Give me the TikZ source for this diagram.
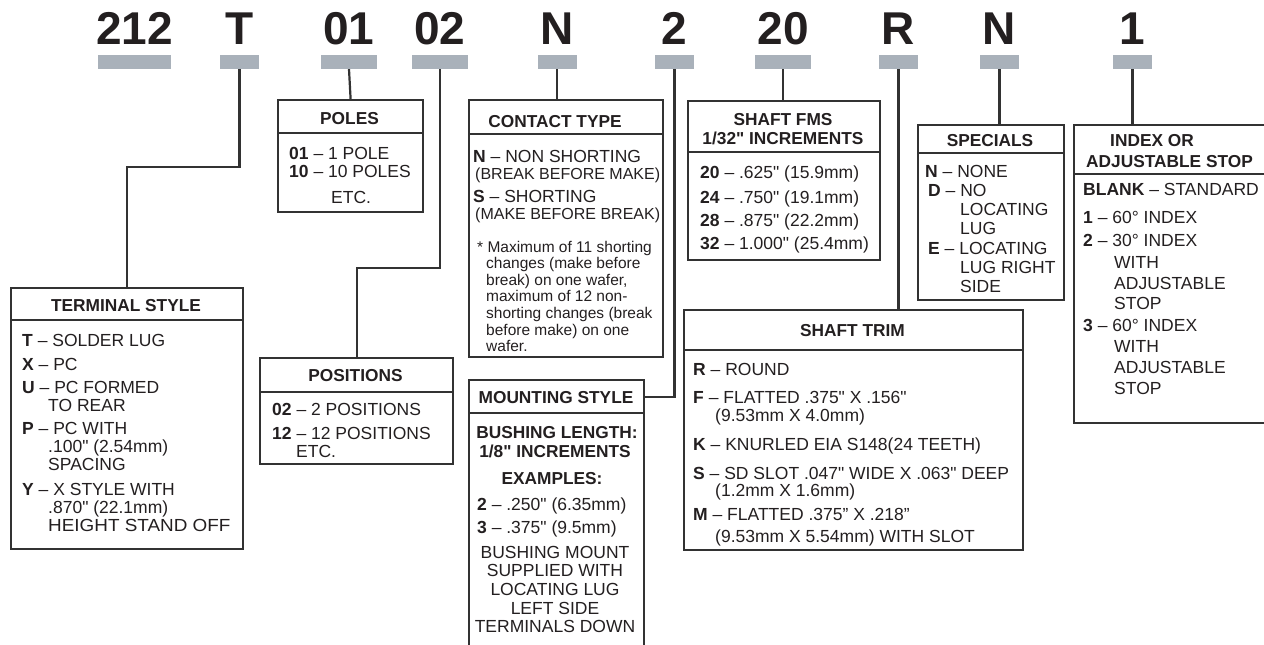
\documentclass[tikz,border=0pt]{standalone}
\usepackage{graphicx}
\usepackage{fontspec}
\setmainfont{Liberation Sans}
\newcommand\sq{\XeTeXglyph\XeTeXcharglyph"22\relax}
\definecolor{ink}{RGB}{35,31,32}
\definecolor{edge}{RGB}{50,50,50}
\definecolor{barc}{RGB}{169,177,186}
\begin{document}
\begin{tikzpicture}[x=1pt,y=-1pt,
  boxframe/.style={draw=edge,line width=2.2pt,inner sep=0,anchor=north west},
  hline/.style={draw=edge,line width=2pt},
  wire/.style={draw=edge,line width=2.2pt},
  bar/.style={fill=barc,inner sep=0,minimum height=14pt},
  code/.style={font=\fontsize{46}{46}\selectfont\bfseries,text=ink,anchor=base,inner sep=0},
  tx/.style={font=\fontsize{17.5}{18}\selectfont,text=ink,anchor=base west,inner sep=0},
  tc/.style={tx,anchor=base},
  hd/.style={font=\fontsize{17.3}{18}\selectfont\bfseries,text=ink,anchor=base,inner sep=0},
  hdw/.style={hd,anchor=base west},
  notetx/.style={tx,font=\fontsize{15.5}{16}\selectfont},
  paren/.style={tx,font=\fontsize{16}{16}\selectfont}]
\useasboundingbox (0,0) rectangle (1264,645);

% ---- codes and bars
\node[bar,minimum width=73pt] (b212) at (134.5,62) {};
\node[bar,minimum width=39pt] (bT) at (239.5,62) {};
\node[bar,minimum width=56pt] (b01) at (349,62) {};
\node[bar,minimum width=56pt] (b02) at (440,62) {};
\node[bar,minimum width=39pt] (bN) at (557,62) {};
\node[bar,minimum width=39pt] (b2) at (674.5,62) {};
\node[bar,minimum width=56pt] (b20) at (783,62) {};
\node[bar,minimum width=39pt] (bR) at (898.5,62) {};
\node[bar,minimum width=39pt] (bN2) at (999.5,62) {};
\node[bar,minimum width=39pt] (b1) at (1132.5,62) {};

\node[code] (c212) at (134.5,44) {212};
\node[code] (cT) at (239.5,44) {T};
\node[code] (c01) at (349,44) {01};
\node[code] (c02) at (440,44) {02};
\node[code] (cN) at (557,44) {N};
\node[code] (c2) at (674.5,44) {2};
\node[code] (c20) at (783,44) {20};
\node[code] (cR) at (898.5,44) {R};
\node[code] (cN2) at (999.5,44) {N};
\node[code] (c1) at (1132.5,44) {1};

% ---- boxes
\node[boxframe,minimum width=232pt,minimum height=261pt] (term) at (10,287) {};
\node[boxframe,minimum width=145pt,minimum height=112pt] (poles) at (277,99) {};
\node[boxframe,minimum width=193pt,minimum height=106pt] (posi) at (259,357) {};
\node[boxframe,minimum width=194pt,minimum height=257pt] (cont) at (468,99) {};
\node[boxframe,minimum width=175pt,minimum height=300pt] (mbody) at (468,379) {};
\node[boxframe,minimum width=175pt,minimum height=33pt] (mhead) at (468,379) {};
\node[boxframe,minimum width=192pt,minimum height=159pt] (fms) at (687,100) {};
\node[boxframe,minimum width=146pt,minimum height=175pt] (spec) at (917,124) {};
\node[boxframe,minimum width=195pt,minimum height=298pt] (idx) at (1073,124) {};
\node[boxframe,minimum width=339pt,minimum height=240pt] (trim) at (683,309) {};

% header separators
\draw[hline] (term.west |- 0,320) -- (term.east |- 0,320);
\draw[hline] (poles.west |- 0,133) -- (poles.east |- 0,133);
\draw[hline] (posi.west |- 0,392) -- (posi.east |- 0,392);
\draw[hline] (cont.west |- 0,134) -- (cont.east |- 0,134);
\draw[hline] (fms.west |- 0,152) -- (fms.east |- 0,152);
\draw[hline] (spec.west |- 0,153) -- (spec.east |- 0,153);
\draw[hline] (idx.west |- 0,174) -- (idx.east |- 0,174);
\draw[hline] (trim.west |- 0,350) -- (trim.east |- 0,350);

% ---- connectors
\draw[wire] (bT.south) -- ++(0,98) -| (term.north);
\draw[wire] (b01.south) -- (poles.north);
\draw[wire] (b02.south) -- ++(0,199) -| (posi.north);
\draw[wire] (bN.south) -- (bN.south |- cont.north);
\draw[wire] (b2.south) |- (mhead.east);
\draw[wire] (b20.south) -- (b20.south |- fms.north);
\draw[wire] (bR.south) -- (bR.south |- trim.north);
\draw[wire] (bN2.south) -- (bN2.south |- spec.north);
\draw[wire] (b1.south) -- (b1.south |- idx.north);

% ---- TERMINAL STYLE
\node[hd] (th) at (126,311) {TERMINAL STYLE};
\node[tx] (t1) at (22,346) {\textbf{T} – SOLDER LUG};
\node[tx] (t2) at (22,370) {\textbf{X} – PC};
\node[tx] (t3) at (22,393) {\textbf{U} – PC FORMED};
\node[tx] (t4) at (48,411) {TO REAR};
\node[tx] (t5) at (22,434) {\textbf{P} – PC WITH};
\node[tx] (t6) at (48,452) {.100\sq{} (2.54mm)};
\node[tx] (t7) at (48,470) {SPACING};
\node[tx] (t8) at (22,495) {\textbf{Y} – X STYLE WITH};
\node[tx] (t9) at (48,513) {.870\sq{} (22.1mm)};
\node[tx] (t10) at (48,531) {\scalebox{1.08}[1]{HEIGHT STAND OFF}};

% ---- POLES
\node[hd] (ph) at (349.5,124) {POLES};
\node[tx] (p1) at (289,159) {\textbf{01} – 1 POLE};
\node[tx] (p2) at (289,177) {\textbf{10} – 10 POLES};
\node[tx] (p3) at (331,203) {ETC.};

% ---- POSITIONS
\node[hd] (qh) at (355.5,381) {POSITIONS};
\node[tx] (q1) at (272,415) {\textbf{02} – 2 POSITIONS};
\node[tx] (q2) at (272,439) {\textbf{12} – 12 POSITIONS};
\node[tx] (q3) at (296,457) {ETC.};

% ---- CONTACT TYPE
\node[hd] (ch) at (555,127) {CONTACT TYPE};
\node[tx] (k1) at (473,162) {\textbf{N} – NON SHORTING};
\node[paren] (k2) at (475,179) {(BREAK BEFORE MAKE)};
\node[tx] (k3) at (473,202) {\textbf{S} – SHORTING};
\node[paren] (k4) at (475,219) {(MAKE BEFORE BREAK)};
\node[notetx] (n1) at (477,252) {* Maximum of 11 shorting};
\node[notetx] (n2) at (486,268) {changes (make before};
\node[notetx] (n3) at (486,285) {break) on one wafer,};
\node[notetx] (n4) at (486,301) {maximum of 12 non-};
\node[notetx] (n5) at (486,318) {shorting changes (break};
\node[notetx] (n6) at (486,335) {before make) on one};
\node[notetx] (n7) at (486,351) {wafer.};

% ---- MOUNTING STYLE
\node[hd] (mh) at (556,403) {MOUNTING STYLE};
\node[hd] (m1) at (557,438) {BUSHING LENGTH:};
\node[hd] (m2) at (555,457) {1/8\sq{} INCREMENTS};
\node[hd] (m3) at (552,484) {EXAMPLES:};
\node[tx] (m4) at (477,510) {\textbf{2} – .250\sq{} (6.35mm)};
\node[tx] (m5) at (477,533) {\textbf{3} – .375\sq{} (9.5mm)};
\node[tc] (m6) at (555,558) {BUSHING MOUNT};
\node[tc] (m7) at (555,576) {SUPPLIED WITH};
\node[tc] (m8) at (555,595) {LOCATING LUG};
\node[tc] (m9) at (555,614) {LEFT SIDE};
\node[tc] (m10) at (555,632) {TERMINALS DOWN};

% ---- SHAFT FMS
\node[hd] (fh1) at (783,125) {SHAFT FMS};
\node[hd] (fh2) at (783,144) {1/32\sq{} INCREMENTS};
\node[tx] (f1) at (700,178) {\textbf{20} – .625\sq{} (15.9mm)};
\node[tx] (f2) at (700,203) {\textbf{24} – .750\sq{} (19.1mm)};
\node[tx] (f3) at (700,226) {\textbf{28} – .875\sq{} (22.2mm)};
\node[tx] (f4) at (700,249) {\textbf{32} – 1.000\sq{} (25.4mm)};

% ---- SPECIALS
\node[hd] (sh) at (990,146) {SPECIALS};
\node[tx] (s1) at (925,177) {\textbf{N} – NONE};
\node[tx] (s2) at (928,196) {\textbf{D} – NO};
\node[tx] (s3) at (960,215) {LOCATING};
\node[tx] (s4) at (960,234) {LUG};
\node[tx] (s5) at (928,254) {\textbf{E} – LOCATING};
\node[tx] (s6) at (960,273) {LUG RIGHT};
\node[tx] (s7) at (960,292) {SIDE};

% ---- INDEX OR ADJUSTABLE STOP
\node[hdw] (ih1) at (1110,146) {INDEX OR};
\node[hdw] (ih2) at (1086,167) {ADJUSTABLE STOP};
\node[tx] (i1) at (1083,195) {\textbf{BLANK} – STANDARD};
\node[tx] (i2) at (1083,223) {\textbf{1} – 60° INDEX};
\node[tx] (i3) at (1083,246) {\textbf{2} – 30° INDEX};
\node[tx] (i4) at (1114,268) {WITH};
\node[tx] (i5) at (1114,289) {ADJUSTABLE};
\node[tx] (i6) at (1114,309) {STOP};
\node[tx] (i7) at (1083,331) {\textbf{3} – 60° INDEX};
\node[tx] (i8) at (1114,352) {WITH};
\node[tx] (i9) at (1114,373) {ADJUSTABLE};
\node[tx] (i10) at (1114,394) {STOP};

% ---- SHAFT TRIM
\node[hd] (rh) at (852.5,336) {SHAFT TRIM};
\node[tx] (r1) at (693,375) {\textbf{R} – ROUND};
\node[tx] (r2) at (693,403) {\textbf{F} – FLATTED .375\sq{} X .156\sq{}};
\node[tx] (r3) at (715,421) {(9.53mm X 4.0mm)};
\node[tx] (r4) at (693,450) {\textbf{K} – KNURLED EIA S148(24 TEETH)};
\node[tx] (r5) at (693,479) {\textbf{S} – SD SLOT .047\sq{} WIDE X .063\sq{} DEEP};
\node[tx] (r6) at (715,496) {(1.2mm X 1.6mm)};
\node[tx] (r7) at (693,520) {\textbf{M} – FLATTED .375” X .218”};
\node[tx] (r8) at (715,542) {(9.53mm X 5.54mm) WITH SLOT};
\end{tikzpicture}
\end{document}
